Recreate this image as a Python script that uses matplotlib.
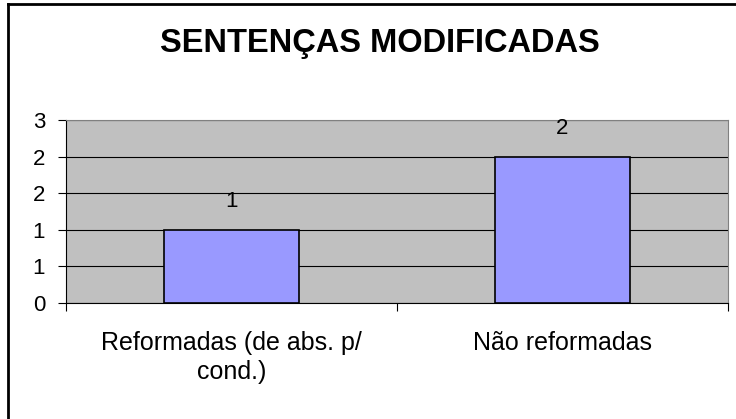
import matplotlib.pyplot as plt
from matplotlib.lines import Line2D

categories = ["Reformadas (de abs. p/\ncond.)", "Não reformadas"]
values = [1, 2]
value_labels = ["1", "2"]
y_ticks = [0, 0.5, 1, 1.5, 2, 2.5]
y_tick_labels = ["0", "1", "1", "2", "2", "3"]

plt.rcParams['font.family'] = ['Liberation Sans', 'DejaVu Sans']

fig = plt.figure(figsize=(7.36, 4.19), dpi=100)
ax = fig.add_axes([66 / 736, 1 - 303 / 419, 662 / 736, 183 / 419])

x = range(len(categories))
ax.bar(x, values, width=0.405, color="#9999ff", edgecolor="black", linewidth=1.2, zorder=3)
for i, v in enumerate(values):
    ax.text(i, v + 0.39, value_labels[i], ha="center", va="center", fontsize=16)

ax.set_facecolor("#c0c0c0")
ax.set_xlim(-0.5, len(categories) - 0.5)
ax.set_ylim(0, 2.5)
ax.set_yticks(y_ticks)
ax.set_yticklabels(y_tick_labels, fontsize=16)
ax.yaxis.grid(True, color="black", linewidth=0.8, zorder=1)
ax.set_axisbelow(True)

ax.set_xticks([-0.5, 0.5, 1.5])
ax.set_xticklabels([])
ax.set_xticks(list(x), minor=True)
ax.set_xticklabels(categories, minor=True, fontsize=18, linespacing=1.3)
ax.tick_params(axis="x", which="minor", length=0, pad=20)
ax.tick_params(axis="x", which="major", length=6, color="black", direction="out")
ax.tick_params(axis="y", length=6, direction="out", pad=9)

for s in ["top", "right"]:
    ax.spines[s].set_color("#808080")
ax.spines["left"].set_color("black")
ax.spines["bottom"].set_color("black")

fig.text(380 / 736, 1 - 52 / 419, "SENTENÇAS MODIFICADAS", ha="center", va="baseline",
         fontsize=23.5, fontweight="bold")

# outer chart border (top and left edges visible)
fig.add_artist(Line2D([8 / 736, 1], [1 - 4 / 419, 1 - 4 / 419], color="black", linewidth=2))
fig.add_artist(Line2D([8 / 736, 8 / 736], [0, 1 - 4 / 419], color="black", linewidth=2))

fig.savefig("out.png", dpi=100)
